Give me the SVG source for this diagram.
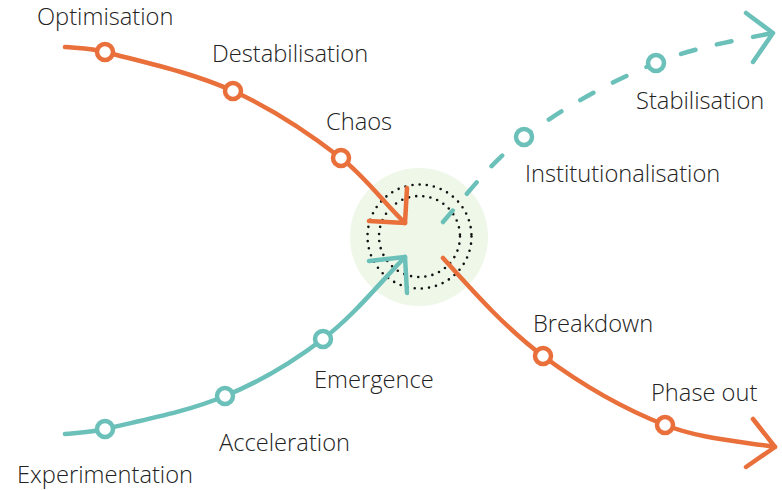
<svg xmlns="http://www.w3.org/2000/svg" width="782" height="490" viewBox="0 0 782 490">
<style>
.o{stroke:#e96f3b}
.t{stroke:#6bc0b9}
.ln{fill:none;stroke-width:4.5;stroke-linecap:round;stroke-linejoin:round}
.nd{fill:#fff;stroke-width:4.5}
.dots{fill:none;stroke:#111;stroke-width:2.6;stroke-linecap:round;stroke-dasharray:0 7.2}
.lb{font-family:"Open Sans","Liberation Sans",sans-serif;font-size:23.7px;font-weight:300;fill:#222}
</style>
<rect width="782" height="490" fill="#fff"/>
<g id="centre">
<circle cx="419" cy="237" r="69" fill="#eff7e9"/>
<circle class="dots" cx="419.5" cy="236.5" r="52"/>
<circle class="dots" cx="419.5" cy="236.5" r="40.5"/>
</g>
<g id="connectors">
<path class="ln o" d="M65,47 C78.3,48.3 92,48.6 105,52 C148.1,63.3 192.3,72.7 233,91 C271.3,108.2 307.8,132.3 341,158 C365.2,176.7 383.4,202.4 405,223"/>
<polyline class="ln o" points="407,188 405,223 369,221"/>
<path class="ln t" d="M65,434 C78.3,432.7 92,432.1 105,429 C145.4,419.4 186.7,411.9 225,396 C259.9,381.6 293,362 323,339 C353.5,315.7 377.8,285.2 405,257"/>
<polyline class="ln t" points="369,261 405,257 407,293"/>
<path class="ln t" stroke-dasharray="15 22" d="M443,222 C468.5,192.3 492.7,160.4 524,137 C564.4,106.9 609.4,82.2 656,63 C693.5,47.6 734,40.6 773,33"/>
<polyline class="ln t" points="746,13 773,33 753,62"/>
<path class="ln o" d="M443,258 C473.9,292.3 505.9,328.4 543,356 C580.5,383.9 621.5,408 665,425 C699.8,438.7 738.1,441.1 775,447"/>
<polyline class="ln o" points="753,419 775,447 746,467"/>
</g>
<g id="n-optimisation"><circle class="nd o" cx="105" cy="52" r="8"/><text class="lb" x="37" y="25">Optimisation</text></g>
<g id="n-destabilisation"><circle class="nd o" cx="233" cy="91" r="8"/><text class="lb" x="212" y="62">Destabilisation</text></g>
<g id="n-chaos"><circle class="nd o" cx="341" cy="158" r="8"/><text class="lb" x="326" y="130">Chaos</text></g>
<g id="n-breakdown"><circle class="nd o" cx="543" cy="356" r="8"/><text class="lb" x="533" y="332">Breakdown</text></g>
<g id="n-phaseout"><circle class="nd o" cx="665" cy="425" r="8"/><text class="lb" x="651" y="401">Phase out</text></g>
<g id="n-experimentation"><circle class="nd t" cx="105" cy="429" r="8"/><text class="lb" x="17" y="483">Experimentation</text></g>
<g id="n-acceleration"><circle class="nd t" cx="225" cy="396" r="8"/><text class="lb" x="219" y="451">Acceleration</text></g>
<g id="n-emergence"><circle class="nd t" cx="323" cy="339" r="8"/><text class="lb" x="314" y="388">Emergence</text></g>
<g id="n-institutionalisation"><circle class="nd t" cx="524" cy="137" r="8"/><text class="lb" x="525" y="182">Institutionalisation</text></g>
<g id="n-stabilisation"><circle class="nd t" cx="656" cy="63" r="8"/><text class="lb" x="636" y="109">Stabilisation</text></g>
</svg>
